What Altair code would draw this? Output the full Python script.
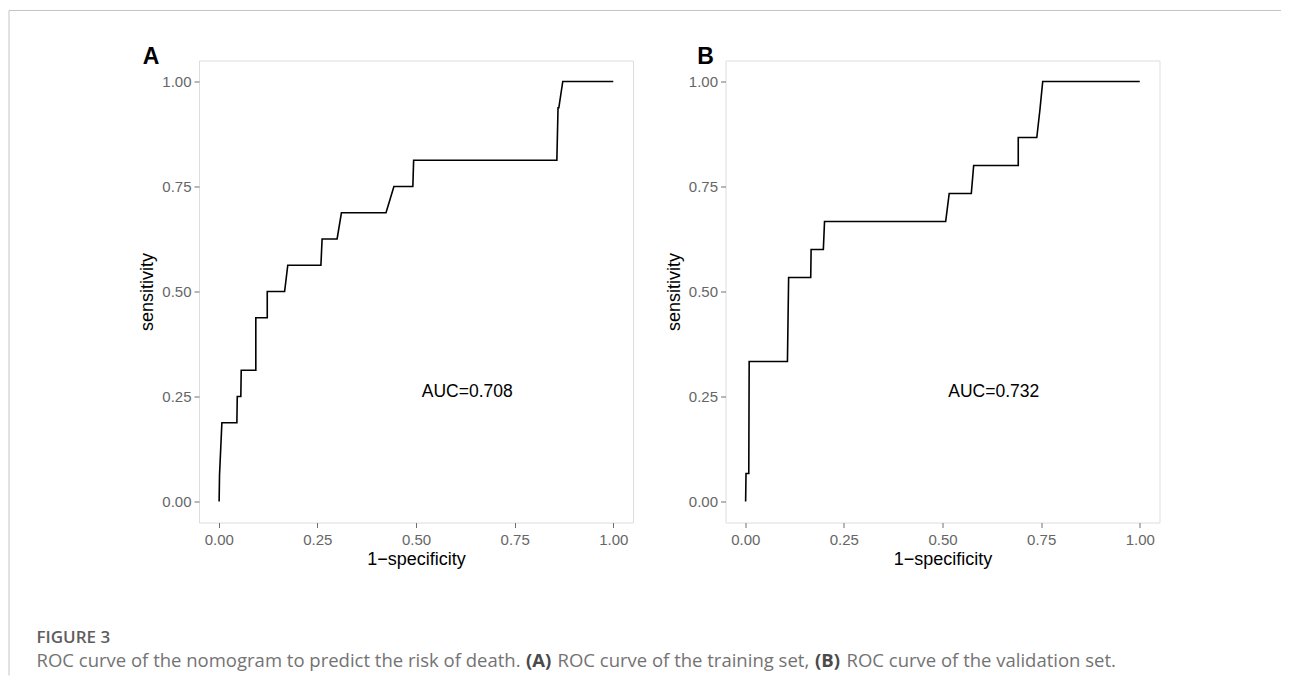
import altair as alt
import pandas as pd

# ---- data ----
fpr_a = [0.001, 0.002, 0.005, 0.008, 0.046, 0.047, 0.056, 0.057, 0.094, 0.094,
         0.123, 0.123, 0.167, 0.175, 0.259, 0.262, 0.300, 0.311, 0.424, 0.444,
         0.492, 0.494, 0.857, 0.860, 0.862, 0.872, 1.000]
tpr_a = [0.0, 0.0625, 0.125, 0.1875, 0.1875, 0.25, 0.25, 0.3125, 0.3125, 0.4375,
         0.4375, 0.5, 0.5, 0.5625, 0.5625, 0.625, 0.625, 0.6875, 0.6875, 0.75,
         0.75, 0.8125, 0.8125, 0.9375, 0.9375, 1.0, 1.0]

fpr_b = [0.001, 0.002, 0.009, 0.010, 0.107, 0.110, 0.166, 0.167, 0.198, 0.201,
         0.508, 0.517, 0.573, 0.579, 0.692, 0.692, 0.739, 0.747, 0.754, 1.000]
tpr_b = [0.0, 0.0667, 0.0667, 0.3333, 0.3333, 0.5333, 0.5333, 0.6, 0.6, 0.6667,
         0.6667, 0.7333, 0.7333, 0.8, 0.8, 0.8667, 0.8667, 0.9333, 1.0, 1.0]

auc_labels = ["AUC=0.708", "AUC=0.732"]
auc_x = [0.63, 0.63]
auc_y = [0.26, 0.26]
panel_letters = ["A", "B"]
tick_values = [0.0, 0.25, 0.5, 0.75, 1.0]
x_title = "1\u2212specificity"
y_title = "sensitivity"

caption_head = "FIGURE 3"
caption_parts = [
    "ROC curve of the nomogram to predict the risk of death.",
    "(A)",
    "ROC curve of the training set,",
    "(B)",
    "ROC curve of the validation set.",
]
caption_bold = [False, True, False, True, False]

# ---- styling / layout ----
W, H = 434, 462
FONT = "Liberation Sans"
CAP_FONT = "Open Sans"
FRAME = "#707070"
LABEL = "#666666"
BORDER = "#c4c4c4"

x_scale = alt.Scale(domain=[-0.05, 1.05], nice=False, zero=False)
y_scale = alt.Scale(domain=[-0.05, 1.05], nice=False, zero=False)


def panel(fpr, tpr, auc, ax, ay, letter, letter_x, extras=()):
    df = pd.DataFrame({"fpr": fpr, "tpr": tpr, "idx": list(range(len(fpr)))})
    xa = alt.Axis(values=tick_values, format=".2f", title=x_title, grid=False,
                  domain=False, tickColor=FRAME, tickSize=5, labelPadding=5,
                  labelFont=FONT, labelFontSize=15, labelColor=LABEL,
                  titleFont=FONT, titleFontSize=18, titleFontWeight="normal",
                  titleColor="black", titlePadding=3)
    ya = alt.Axis(values=tick_values, format=".2f", title=y_title, grid=False,
                  domain=False, tickColor=FRAME, tickSize=5, labelPadding=3,
                  labelFont=FONT, labelFontSize=15, labelColor=LABEL,
                  titleFont=FONT, titleFontSize=18, titleFontWeight="normal",
                  titleColor="black", titlePadding=5)
    line = alt.Chart(df).mark_line(color="black", strokeWidth=1.6).encode(
        x=alt.X("fpr:Q", scale=x_scale, axis=xa),
        y=alt.Y("tpr:Q", scale=y_scale, axis=ya),
        order="idx:Q",
    )
    auc_df = pd.DataFrame({"fpr": [ax], "tpr": [ay], "t": [auc]})
    auc_txt = alt.Chart(auc_df).mark_text(
        font=FONT, fontSize=17.5, color="black", align="center", baseline="middle"
    ).encode(x="fpr:Q", y="tpr:Q", text="t:N")
    let_df = pd.DataFrame({"t": [letter]})
    let_txt = alt.Chart(let_df).mark_text(
        font=FONT, fontSize=23, fontWeight="bold", color="black",
        align="center", baseline="alphabetic"
    ).encode(x=alt.value(letter_x), y=alt.value(3.5), text="t:N")
    layers = [line, auc_txt, let_txt] + list(extras)
    return alt.layer(*layers).properties(width=W, height=H)


one = pd.DataFrame({"k": [0]})
border_left = alt.Chart(one).mark_rule(color=BORDER, strokeWidth=1).encode(
    x=alt.value(-190), y=alt.value(-50), y2=alt.value(615))
border_top = alt.Chart(one).mark_rule(color=BORDER, strokeWidth=1).encode(
    x=alt.value(-190), x2=alt.value(1082), y=alt.value(-50))

head = alt.Chart(pd.DataFrame({"t": [caption_head]})).mark_text(
    font=CAP_FONT, fontSize=17, fontWeight=600, color="#5e5e5e",
    align="left", baseline="alphabetic"
).encode(x=alt.value(-162.5), y=alt.value(582), text="t:N")

cap_x = [-162.5, 327, 358.5, 616, 647.5]
cap_layers = []
for part, bold, cx in zip(caption_parts, caption_bold, cap_x):
    cap_layers.append(
        alt.Chart(pd.DataFrame({"t": [part]})).mark_text(
            font=CAP_FONT, fontSize=18.5, fontWeight="bold" if bold else "normal",
            color="#4a4a4a" if bold else "#737373",
            align="left", baseline="alphabetic"
        ).encode(x=alt.value(cx), y=alt.value(606), text="t:N")
    )

pa = panel(fpr_a, tpr_a, auc_labels[0], auc_x[0], auc_y[0], panel_letters[0], -48,
           extras=[border_left, border_top, head] + cap_layers)
pb = panel(fpr_b, tpr_b, auc_labels[1], auc_x[1], auc_y[1], panel_letters[1], -20)

chart = alt.hconcat(pa, pb, spacing=92.5, bounds="flush").properties(
    padding={"left": 0, "top": 1.5, "right": 0, "bottom": 0}
).configure_view(stroke=FRAME, strokeWidth=1).configure(background="white")

chart.save("out.html", embed_options={"renderer": "svg", "actions": False})
